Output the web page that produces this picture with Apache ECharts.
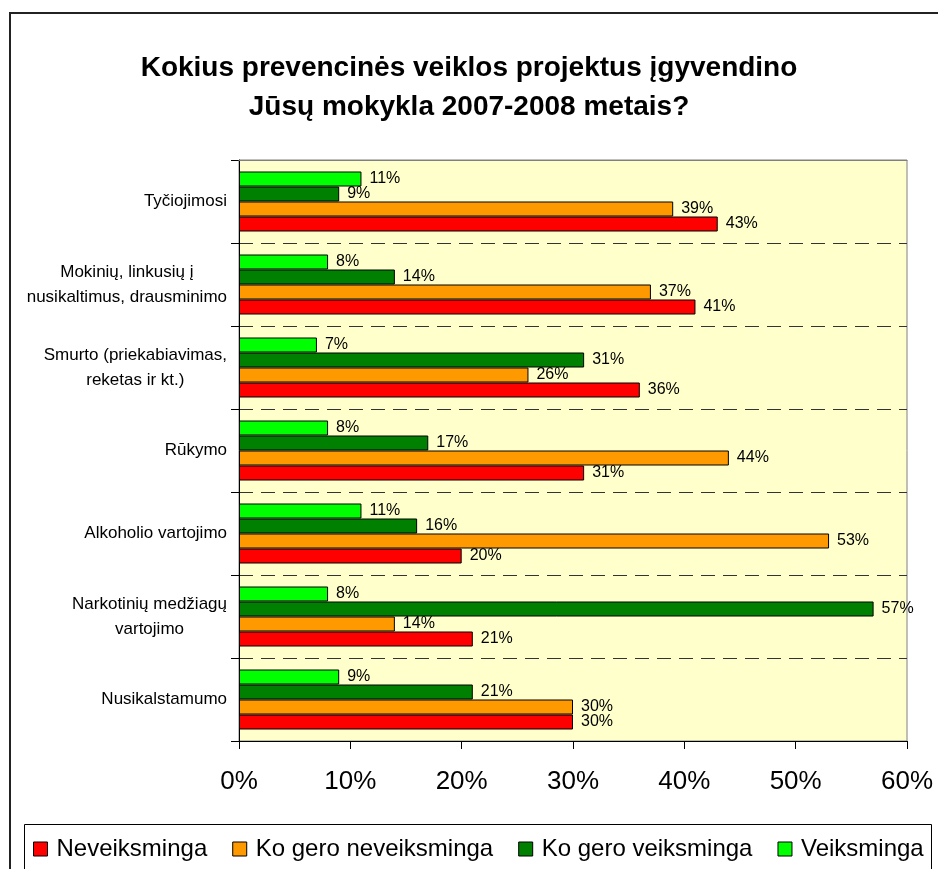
<!DOCTYPE html>
<html>
<head>
<meta charset="utf-8">
<script src="https://cdn.jsdelivr.net/npm/echarts@6/dist/echarts.min.js"></script>
<style>
  html, body { margin: 0; padding: 0; background: #fff; }
  #chart { width: 938px; height: 869px; }
</style>
</head>
<body>
<div id="chart"></div>
<script>
// categories listed bottom -> top (category y axis grows upward)
const categories = [
  'Nusikalstamumo',
  'Narkotinių medžiagų\nvartojimo',
  'Alkoholio vartojimo',
  'Rūkymo',
  'Smurto (priekabiavimas,\nreketas ir kt.)',
  'Mokinių, linkusių į\nnusikaltimus, drausminimo',
  'Tyčiojimosi',
]

const neveiksminga = [30, 21, 20, 31, 36, 41, 43]
const koGeroNeveiksminga = [30, 14, 53, 44, 26, 37, 39]
const koGeroVeiksminga = [21, 57, 16, 17, 31, 14, 9]
const veiksminga = [9, 8, 11, 8, 7, 8, 11]

const seriesNames = ['Neveiksminga', 'Ko gero neveiksminga', 'Ko gero veiksminga', 'Veiksminga']
const seriesColors = ['#FF0000', '#FF9900', '#008000', '#00FF00']
const seriesData = [neveiksminga, koGeroNeveiksminga, koGeroVeiksminga, veiksminga]

const FONT = '"Liberation Sans", Arial, sans-serif'

const chart = echarts.init(document.getElementById('chart'))

function makeSeries(i) {
  return {
    name: seriesNames[i],
    type: 'bar',
    data: seriesData[i],
    barWidth: 15,
    barGap: '0%',
    itemStyle: { color: seriesColors[i], borderColor: '#000', borderWidth: 1 },
    label: {
      show: true,
      position: 'right',
      distance: 8,
      formatter: '{c}%',
      color: '#000',
      fontSize: 16,
      fontFamily: FONT,
    },
  }
}

chart.setOption({
  animation: false,
  textStyle: { fontFamily: FONT },
  title: {
    text: 'Kokius prevencinės veiklos projektus įgyvendino\nJūsų mokykla 2007-2008 metais?',
    left: 464,
    textAlign: 'center',
    top: 44,
    textStyle: {
      fontFamily: FONT,
      fontSize: 28,
      fontWeight: 'bold',
      color: '#000',
      lineHeight: 39,
    },
  },
  graphic: [
    {
      type: 'rect',
      shape: { x: 10, y: 13, width: 1000, height: 1000 },
      style: { fill: 'none', stroke: '#222', lineWidth: 2 },
      silent: true,
    },
    {
      type: 'rect',
      shape: { x: 24.5, y: 824.5, width: 907, height: 100 },
      style: { fill: 'none', stroke: '#000', lineWidth: 1 },
      silent: true,
    },
  ],
  legend: {
    data: seriesNames,
    left: 28,
    top: 832,
    itemGap: 25,
    itemWidth: 14,
    itemHeight: 14,
    icon: 'rect',
    itemStyle: { borderColor: '#000', borderWidth: 1 },
    textStyle: {
      fontFamily: FONT,
      fontSize: 24,
      color: '#000',
      padding: [0, 0, 0, 4],
    },
  },
  grid: {
    left: 239,
    right: 31,
    top: 160,
    bottom: 128,
    show: true,
    backgroundColor: '#FFFFCC',
    borderColor: '#808080',
    borderWidth: 1,
  },
  xAxis: [
    {
      type: 'value',
      min: 0,
      max: 60,
      interval: 10,
      axisLine: { show: true, lineStyle: { color: '#000', width: 1 } },
      axisTick: { show: true, length: 8, lineStyle: { color: '#000' } },
      splitLine: { show: false },
      axisLabel: {
        formatter: '{value}%',
        color: '#000',
        fontSize: 26,
        fontFamily: FONT,
        margin: 28,
      },
    },
    {
      // plain gray top edge of the plot area, drawn over the dashed separators
      type: 'value',
      position: 'top',
      min: 0,
      max: 60,
      interval: 10,
      z: 5,
      axisLine: { show: true, lineStyle: { color: '#808080', width: 1 } },
      axisTick: { show: false },
      axisLabel: { show: false },
      splitLine: { show: false },
    },
  ],
  yAxis: {
    type: 'category',
    data: categories,
    axisLine: { show: true, lineStyle: { color: '#000', width: 1 } },
    axisTick: { show: true, length: 8, lineStyle: { color: '#000' } },
    splitLine: {
      show: true,
      lineStyle: { color: '#333', type: [14, 8], width: 1 },
    },
    axisLabel: {
      color: '#000',
      fontSize: 17,
      fontFamily: FONT,
      margin: 12,
      lineHeight: 25,
      formatter: (v) => v.split('\n').map((l) => '{c|' + l + '}').join('\n'),
      rich: {
        c: { align: 'center', fontSize: 17, fontFamily: FONT, color: '#000', lineHeight: 25 },
      },
    },
  },
  // bars of one category stack from the top in series order, so green comes first
  series: [3, 2, 1, 0].map(makeSeries),
})
</script>
</body>
</html>
